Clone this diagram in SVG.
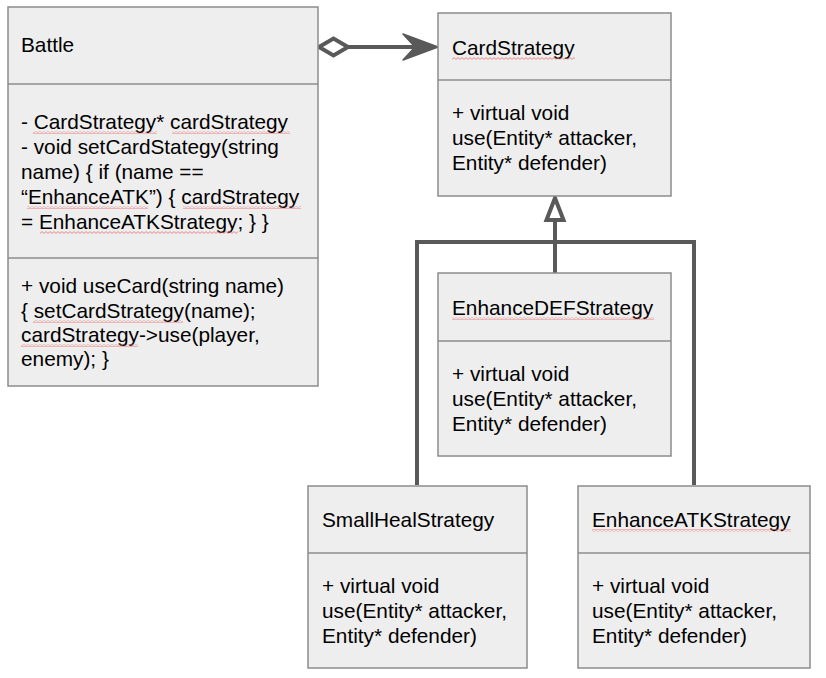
<svg xmlns="http://www.w3.org/2000/svg" width="826" height="678" viewBox="0 0 826 678">
<style>
.box{fill:#eeeeee;stroke:#8c8c8c;stroke-width:1.5}
.div{stroke:#8c8c8c;stroke-width:1.5}
text{font-family:"Liberation Sans",Arial,sans-serif;font-size:20.8px;fill:#000}
.conn{fill:none;stroke:#595959;stroke-width:4}
.sq{fill:url(#squiggle)}
</style>
<defs>
<pattern id="squiggle" patternUnits="userSpaceOnUse" width="4" height="3">
<path d="M0 2.4 L2 0.6 L4 2.4" fill="none" stroke="#ea6b6b" stroke-width="0.8"/>
</pattern>
</defs>
<rect width="826" height="678" fill="#ffffff"/>
<g id="connectors">
<path class="conn" d="M348 47 L420 47"/>
<polygon points="319,47 333.5,38.5 348,47 333.5,55.5" fill="#ffffff" stroke="#595959" stroke-width="4" stroke-linejoin="miter"/>
<polygon points="438,47 403,34 415,47 403,60" fill="#595959" stroke="#595959" stroke-width="1.5" stroke-linejoin="round"/>
<path class="conn" d="M555 273 L555 221"/>
<path class="conn" d="M417 485 L417 242 L694 242 L694 485"/>
<polygon points="555,198 546.5,220 563.5,220" fill="#ffffff" stroke="#595959" stroke-width="4" stroke-linejoin="miter"/>
</g>
<g id="Battle">
<rect class="box" x="8" y="7" width="310" height="379"/>
<line class="div" x1="8" y1="84" x2="318" y2="84"/>
<line class="div" x1="8" y1="258" x2="318" y2="258"/>
<text x="21" y="52">Battle</text>
<text x="21" y="129">- CardStrategy* cardStrategy</text>
<text x="21" y="154">- void setCardStategy(string</text>
<text x="21" y="179">name) { if (name ==</text>
<text x="21" y="204">“EnhanceATK”) { cardStrategy</text>
<text x="21" y="229">= EnhanceATKStrategy; } }</text>
<text x="21" y="293">+ void useCard(string name)</text>
<text x="21" y="318">{ setCardStrategy(name);</text>
<text x="21" y="342">cardStrategy-&gt;use(player,</text>
<text x="21" y="366">enemy); }</text>
<rect class="sq" x="33" y="131" width="124" height="3"/>
<rect class="sq" x="172" y="131" width="118" height="3"/>
<rect class="sq" x="27" y="206" width="121" height="3"/>
<rect class="sq" x="183" y="206" width="118" height="3"/>
<rect class="sq" x="40" y="231" width="198" height="3"/>
<rect class="sq" x="33" y="320" width="150" height="3"/>
<rect class="sq" x="21" y="344" width="117" height="3"/>
</g>
<g id="CardStrategy">
<rect class="box" x="438" y="13" width="233" height="183"/>
<line class="div" x1="438" y1="80" x2="671" y2="80"/>
<text x="452" y="55">CardStrategy</text>
<text x="452" y="120">+ virtual void</text>
<text x="452" y="145">use(Entity* attacker,</text>
<text x="452" y="170">Entity* defender)</text>
<rect class="sq" x="452" y="57" width="123" height="3"/>
</g>
<g id="EnhanceDEFStrategy">
<rect class="box" x="438" y="273" width="233" height="183"/>
<line class="div" x1="438" y1="341" x2="671" y2="341"/>
<text x="452" y="315">EnhanceDEFStrategy</text>
<text x="452" y="381">+ virtual void</text>
<text x="452" y="406">use(Entity* attacker,</text>
<text x="452" y="431">Entity* defender)</text>
<rect class="sq" x="452" y="317" width="202" height="3"/>
</g>
<g id="SmallHealStrategy">
<rect class="box" x="308" y="486" width="219" height="182"/>
<line class="div" x1="308" y1="553" x2="527" y2="553"/>
<text x="322" y="527">SmallHealStrategy</text>
<text x="322" y="593">+ virtual void</text>
<text x="322" y="618">use(Entity* attacker,</text>
<text x="322" y="643">Entity* defender)</text>
</g>
<g id="EnhanceATKStrategy">
<rect class="box" x="578" y="486" width="232" height="182"/>
<line class="div" x1="578" y1="553" x2="810" y2="553"/>
<text x="592" y="527">EnhanceATKStrategy</text>
<text x="592" y="593">+ virtual void</text>
<text x="592" y="618">use(Entity* attacker,</text>
<text x="592" y="643">Entity* defender)</text>
<rect class="sq" x="592" y="529" width="199" height="3"/>
</g>
</svg>
